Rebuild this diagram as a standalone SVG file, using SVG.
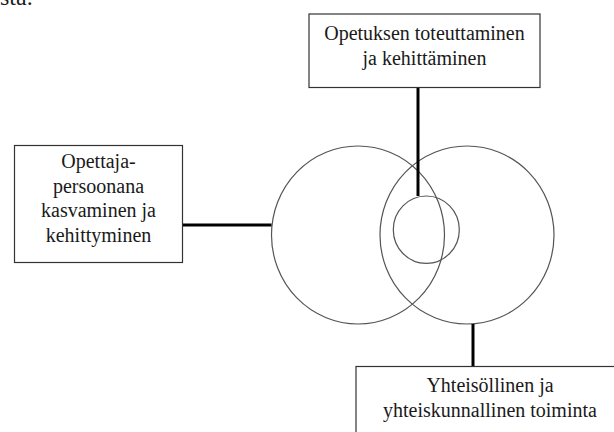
<svg xmlns="http://www.w3.org/2000/svg" width="614" height="432" viewBox="0 0 614 432">
<style>
.lbl{font-size:20px;text-anchor:middle;fill:#1a1a1a;}
.box{fill:#fff;stroke:#333;stroke-width:1.2;}
.circ{fill:none;stroke:#555;stroke-width:1.2;}
.conn{stroke:#000;stroke-width:3;fill:none;}
</style>
<rect width="614" height="432" fill="#fff"/>
<g font-family="Liberation Serif, serif">
<text x="0" y="4.5" font-size="24" fill="#1a1a1a">sta.</text>
<g id="circles">
<ellipse class="circ" cx="358" cy="235" rx="86.5" ry="89"/>
<ellipse class="circ" cx="467" cy="235" rx="87" ry="89"/>
<ellipse class="circ" cx="426.3" cy="229.7" rx="33" ry="33.7"/>
</g>
<g id="connectors">
<line class="conn" x1="418" y1="87.5" x2="418" y2="196"/>
<line class="conn" x1="183" y1="225" x2="271.5" y2="225"/>
<line class="conn" x1="473" y1="324" x2="473" y2="366.5"/>
</g>
<g id="node-top">
<rect class="box" x="309" y="14" width="231" height="73.5"/>
<text class="lbl" x="424.5" y="40">Opetuksen toteuttaminen</text>
<text class="lbl" x="424.5" y="65">ja kehittäminen</text>
</g>
<g id="node-left">
<rect class="box" x="14.5" y="145.5" width="168" height="117"/>
<text class="lbl" x="98.5" y="168">Opettaja-</text>
<text class="lbl" x="98.5" y="192.5">persoonana</text>
<text class="lbl" x="98.5" y="217">kasvaminen ja</text>
<text class="lbl" x="98.5" y="241.5">kehittyminen</text>
</g>
<g id="node-bottom">
<rect class="box" x="356" y="366.5" width="268" height="80"/>
<text class="lbl" x="490" y="391.5">Yhteisöllinen ja</text>
<text class="lbl" x="490" y="417">yhteiskunnallinen toiminta</text>
</g>
</g>
</svg>
